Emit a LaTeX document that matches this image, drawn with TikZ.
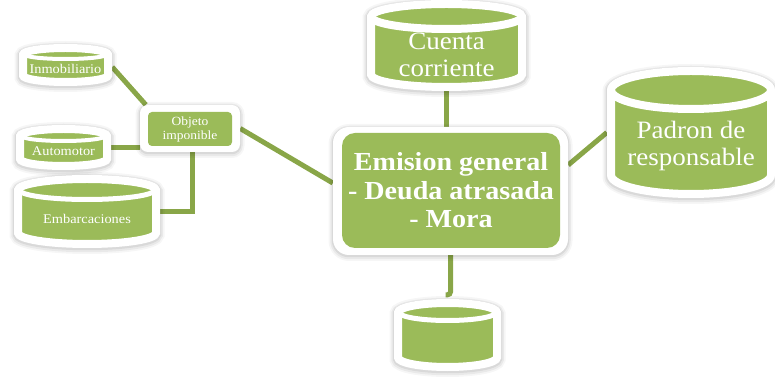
\documentclass[tikz,border=0pt]{standalone}
\usepackage{fontspec}
\setmainfont[FakeStretch=1.08]{Liberation Serif}
\usetikzlibrary{backgrounds}
\definecolor{gfill}{HTML}{9BBB59}
\definecolor{gline}{RGB}{137,166,72}
\tikzset{
  halo/.style={fill=white,
    preaction={draw=black, draw opacity=0.035, line width=9pt, transform canvas={yshift=-1.5pt}},
    preaction={draw=black, draw opacity=0.05, line width=5.5pt, transform canvas={yshift=-1.5pt}},
    preaction={draw=black, draw opacity=0.07, line width=2.5pt, transform canvas={yshift=-1pt}}},
  canhalo/.style={fill=gfill, draw=white, line width=8pt,
    preaction={draw=black, draw opacity=0.035, line width=17pt, transform canvas={yshift=-1.5pt}},
    preaction={draw=black, draw opacity=0.05, line width=13.5pt, transform canvas={yshift=-1.5pt}},
    preaction={draw=black, draw opacity=0.07, line width=10.5pt, transform canvas={yshift=-1pt}}},
  conn/.style={draw=gline, line width=5pt},
  txt/.style={text=white, align=center, inner sep=0pt},
  greenbox/.style={fill=gfill, inner sep=0pt, text=white, align=center},
  outerbox/.style={halo, inner sep=0pt},
  bigcyl/.style={font=\fontsize{25}{27.5}\selectfont},
  smallcyl/.style={font=\fontsize{13.3}{14}\selectfont},
}
% name, cx, lid centre y (from top), a, r, lowest green y, band width, text y, text
\newcommand\dbcyl[9]{%
  \pgfmathsetmacro\cyT{377-#3}%
  \pgfmathsetmacro\cyB{377-(#6-#5)}%
  \pgfmathsetmacro\cyA{#4+4}%
  \pgfmathsetmacro\cyR{#5+4}%
  \pgfmathsetmacro\cyLo{#2-\cyA}%
  \pgfmathsetmacro\cyRo{#2+\cyA}%
  \pgfmathsetmacro\cyAb{#4+#7/2}%
  \pgfmathsetmacro\cyRb{#5+#7/2}%
  \path[canhalo] (\cyLo,\cyT) arc[start angle=180,end angle=0,x radius=\cyA,y radius=\cyR]
     -- (\cyRo,\cyB) arc[start angle=0,end angle=-180,x radius=\cyA,y radius=\cyR] -- cycle;
  \draw[white, line width=#7 pt] (#2+\cyAb,\cyT) arc[start angle=0,end angle=-180,x radius=\cyAb,y radius=\cyRb];
  \pgfmathsetmacro\cyH{(#6+8)-(#3-#5-8)}%
  \pgfmathsetmacro\cyM{377-((#6+8)+(#3-#5-8))/2}%
  \pgfmathsetmacro\cyW{2*(#4+8)}%
  \node[inner sep=0pt, minimum width=\cyW pt, minimum height=\cyH pt] (#1) at (#2,\cyM) {};
  \node[txt, cyltxt] (#1-t) at (#2,377-#8) {#9};
}
\begin{document}
\begin{tikzpicture}[x=1pt,y=1pt]
\useasboundingbox (0,0) rectangle (775,377);
% central box
\node[outerbox, rounded corners=16pt, minimum width=235pt, minimum height=128pt] (main) at (450.5,186) {};
\node[greenbox, rounded corners=13pt, minimum width=218pt, minimum height=115pt,
      font=\fontsize{26}{28.5}\selectfont\bfseries] (maintxt) at (451,186.5)
      {Emision general\\- Deuda atrasada\\- Mora};
% objeto imponible
\node[outerbox, rounded corners=8pt, minimum width=100pt, minimum height=47pt] (obj) at (190,248.5) {};
\node[greenbox, rounded corners=4pt, minimum width=84pt, minimum height=34pt,
      font=\fontsize{12.5}{14}\selectfont] (objtxt) at (190,248) {Objeto\\imponible};
% cylinders
\tikzset{cyltxt/.style={bigcyl}}
\dbcyl{cc}{446.5}{16.5}{71.5}{8.5}{83}{8}{55}{Cuenta\\corriente}
\dbcyl{pad}{691}{90}{76}{15}{190}{8}{146}{Padron de\\responsable}
\dbcyl{bot}{447.5}{312.5}{45.5}{5.5}{363}{5}{335}{}
\tikzset{cyltxt/.style={smallcyl}}
\dbcyl{inmo}{65.5}{54.5}{38.5}{2.5}{78}{4}{68.5}{Inmobiliario}
\dbcyl{auto}{63.5}{136}{39.5}{3}{162}{4}{151.5}{Automotor}
\dbcyl{emb}{87}{190}{65}{7}{240}{5}{218.5}{Embarcaciones}
% connectors
\begin{scope}[on background layer]
\draw[conn] ([yshift=-2pt]inmo.east) -- ([xshift=6pt]obj.north west);
\draw[conn] (auto.east) -- (auto.east -| obj.west);
\draw[conn] (emb.east) -| ([xshift=2pt]obj.south);
\draw[conn] (obj.east) -- ([yshift=8pt]main.west);
\draw[conn] (cc.south) -- (cc.south |- main.north);
\draw[conn] ([yshift=26pt]main.east) -- (pad.west);
\draw[conn, rounded corners=3pt] (main.south) |- ([xshift=-2pt,yshift=4pt]bot.north);
\end{scope}
\end{tikzpicture}
\end{document}
